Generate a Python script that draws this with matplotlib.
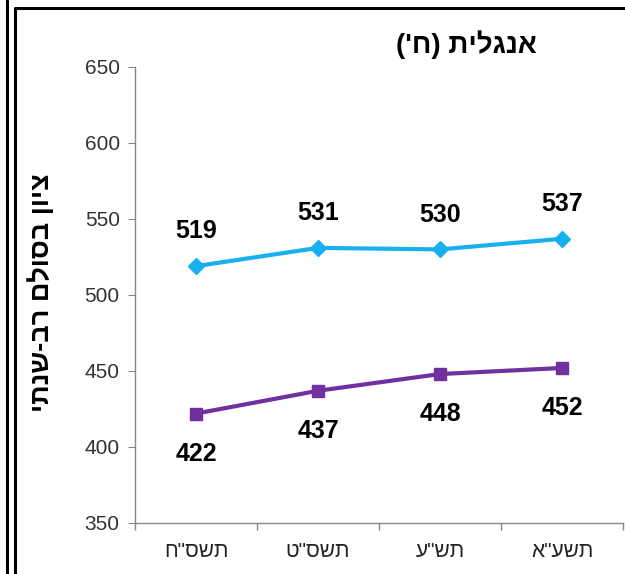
import matplotlib.pyplot as plt
from matplotlib.lines import Line2D

# נתונים
years = ['ח"סשת', 'ט"סשת', 'ע"שת', 'א"עשת']   # תשס"ח, תשס"ט, תש"ע, תשע"א (visual order)
upper = [519, 531, 530, 537]
lower = [422, 437, 448, 452]
yticks = [350, 400, 450, 500, 550, 600, 650]

# אנגלית (ח') written in visual (left-to-right) order
title = "('" + '\u05D7' + ") " + '\u05EA\u05D9\u05DC\u05D2\u05E0\u05D0'
ylabel = 'יתנש-בר םלוסב ןויצ'   # ציון בסולם רב-שנתי

plt.rcParams['font.family'] = ['Liberation Sans', 'DejaVu Sans']

fig = plt.figure(figsize=(6.25, 5.74), dpi=100)
ax = fig.add_axes([135 / 625, 51 / 574, 488 / 625, 456 / 574])

x = list(range(len(years)))
ax.plot(x, upper, color='#1AB0F0', lw=3, marker='D', markersize=8, zorder=3)
ax.plot(x, lower, color='#7030A0', lw=3, marker='s', markersize=9, zorder=3)

for xi, v in zip(x, upper):
    ax.annotate(str(v), (xi, v), xytext=(0, 25), textcoords='offset points',
                ha='center', va='center', fontsize=18, fontweight='bold')
for xi, v in zip(x, lower):
    ax.annotate(str(v), (xi, v), xytext=(0, -29), textcoords='offset points',
                ha='center', va='center', fontsize=18, fontweight='bold')

ax.set_xlim(-0.5, len(years) - 0.5)
ax.set_ylim(350, 650)
ax.set_yticks(yticks)
ax.set_xticks(x)
ax.set_xticklabels(years)
ax.set_xticks([i - 0.5 for i in range(len(years) + 1)], minor=True)
ax.tick_params(axis='x', which='major', length=0, pad=14, labelsize=15, labelcolor='#222222')
ax.tick_params(axis='x', which='minor', length=5, color='#868686', width=1)
ax.tick_params(axis='y', length=5, color='#868686', labelsize=15, labelcolor='#333333', pad=6)

for s in ['top', 'right']:
    ax.spines[s].set_visible(False)
for s in ['left', 'bottom']:
    ax.spines[s].set_color('#868686')
    ax.spines[s].set_linewidth(1)

fig.text(537 / 625, 1 - 45 / 574, title, ha='right', va='center',
         fontsize=20, fontweight='bold')
fig.text(42 / 625, 1 - 293 / 574, ylabel, ha='center', va='center',
         rotation=90, fontsize=19.5, fontweight='bold')

# מסגרת
fig.add_artist(Line2D([7 / 625, 7 / 625], [0, 1], transform=fig.transFigure, color='black', lw=2.2))
fig.add_artist(Line2D([15 / 625, 15 / 625, 1], [0, 1 - 8 / 574, 1 - 8 / 574],
                      transform=fig.transFigure, color='black', lw=2.2))

plt.savefig('out.png', dpi=100)
